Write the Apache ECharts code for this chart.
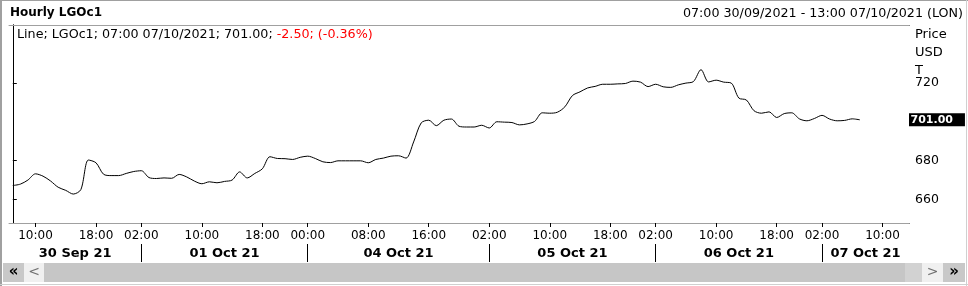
<!DOCTYPE html>
<html>
<head>
<meta charset="utf-8">
<script src="https://cdn.jsdelivr.net/npm/echarts@6/dist/echarts.min.js"></script>
<style>
html,body{margin:0;padding:0;background:#fff;}
#c{width:968px;height:286px;}
</style>
</head>
<body>
<div id="c"></div>
<script>
// ---- data ----
const sessions = [
  ['2021-09-30', 7, 22],
  ['2021-10-01', 1, 22],
  ['2021-10-03', 23, 23],
  ['2021-10-04', 0, 22],
  ['2021-10-05', 1, 22],
  ['2021-10-06', 1, 22],
  ['2021-10-07', 1, 13]
];
const tickLabels = ['2021-09-30 10:00','2021-09-30 18:00','2021-10-01 02:00','2021-10-01 10:00','2021-10-01 18:00',
  '2021-10-04 00:00','2021-10-04 08:00','2021-10-04 16:00','2021-10-05 02:00','2021-10-05 10:00','2021-10-05 18:00',
  '2021-10-06 02:00','2021-10-06 10:00','2021-10-06 18:00','2021-10-07 02:00','2021-10-07 10:00'];
const dayStarts = ['2021-10-01 02:00','2021-10-04 00:00','2021-10-05 02:00','2021-10-06 02:00','2021-10-07 02:00'];
const dayLabels = ['30 Sep 21','01 Oct 21','04 Oct 21','05 Oct 21','06 Oct 21','07 Oct 21'];
const prices = [
  667.2, 667.9, 670.0, 673.2, 672.0, 669.5, 666.3, 664.7, 662.8, 665.1,
  680.3, 678.9, 673.0, 672.3, 672.3, 673.4, 674.4, 674.8, 671.3, 670.8,
  671.1, 670.9, 672.9, 671.6, 669.5, 668.1, 669.1, 668.6, 669.3, 670.0,
  674.2, 671.1, 673.4, 675.8, 682.0, 681.1, 681.0, 680.6, 681.7, 682.3,
  681.1, 679.4, 679.0, 679.9, 679.9, 679.9, 679.9, 678.9, 680.6, 681.3,
  682.3, 682.5, 681.3, 689.6, 699.4, 700.8, 698.0, 700.8, 701.4, 697.7,
  697.3, 697.3, 698.2, 696.8, 700.0, 699.8, 699.6, 698.4, 698.9, 700.2,
  704.6, 704.4, 704.9, 707.7, 713.5, 715.4, 717.4, 718.2, 719.3, 719.3,
  719.5, 719.7, 720.9, 720.4, 718.1, 719.3, 718.0, 717.7, 719.0, 719.9,
  720.7, 726.8, 720.5, 721.4, 720.4, 719.9, 712.2, 711.2, 705.7, 704.4,
  705.1, 702.2, 704.2, 704.6, 701.5, 700.5, 701.7, 703.3, 701.4, 700.5,
  700.7, 701.5, 701.0
];
const yTicks = [660, 680, 720];
const yMin = 647.9, yMax = 749.8;

// ---- build ----
const categories = [];
sessions.forEach(s => { for (let h = s[1]; h <= s[2]; h++) categories.push(s[0] + ' ' + String(h).padStart(2, '0') + ':00'); });
const N = categories.length;
const tickIdx = tickLabels.map(t => categories.indexOf(t));
const sepIdx = dayStarts.map(t => categories.indexOf(t));
const bounds = [-0.5].concat(sepIdx).concat([N - 0.5]);
const dayMid = dayLabels.map((d, i) => (bounds[i] + bounds[i + 1]) / 2);
const seriesData = prices.map((v, i) => [i, v]);
const last = prices[prices.length - 1];

const FONT = '"DejaVu Sans", sans-serif';
const G = {left: 9, top: 25, right: 59, bottom: 63};
const W = 968, H = 286;
const gx1 = G.left + 0.5, gx2 = W - G.right + 0.5, gy1 = G.top + 0.5, gy2 = H - G.bottom + 0.5;

const chart = echarts.init(document.getElementById('c'), null, {renderer: 'canvas'});
chart.setOption({
  animation: false,
  backgroundColor: '#fff',
  textStyle: {fontFamily: FONT},
  grid: {left: G.left, top: G.top, right: G.right, bottom: G.bottom, containLabel: false, outerBoundsMode: 'none'},
  xAxis: [
    {
      type: 'value', min: -0.5, max: N - 0.5, position: 'bottom',
      axisLine: {show: true, lineStyle: {color: '#a0a0a0', width: 1}},
      axisTick: {show: true, customValues: tickIdx, length: 4, lineStyle: {color: '#000'}},
      axisLabel: {show: true, customValues: tickIdx, margin: 7, fontSize: 12, color: '#000', fontFamily: FONT,
        formatter: v => categories[Math.round(v)].slice(11)},
      splitLine: {show: false}
    },
    {
      type: 'value', min: -0.5, max: N - 0.5, position: 'bottom', offset: 21,
      axisLine: {show: false},
      axisTick: {show: true, customValues: sepIdx, length: 18, lineStyle: {color: '#000'}},
      axisLabel: {show: true, customValues: dayMid, margin: 3, fontSize: 13, fontWeight: 'bold', color: '#000', fontFamily: FONT,
        formatter: v => dayLabels[dayMid.indexOf(v)]},
      splitLine: {show: false}
    },
    {
      type: 'value', min: -0.5, max: N - 0.5, position: 'top',
      axisLine: {show: true, lineStyle: {color: '#a0a0a0', width: 1}},
      axisTick: {show: false}, axisLabel: {show: false}, splitLine: {show: false}
    }
  ],
  yAxis: [
    {
      type: 'value', min: yMin, max: yMax, position: 'right',
      axisLine: {show: true, lineStyle: {color: '#000', width: 1}},
      axisTick: {show: true, customValues: yTicks, length: 4, lineStyle: {color: '#000'}},
      axisLabel: {show: true, customValues: yTicks, margin: 6, fontSize: 12.5, color: '#000', fontFamily: FONT},
      splitLine: {show: false}
    },
    {
      type: 'value', min: yMin, max: yMax, position: 'left',
      axisLine: {show: true, lineStyle: {color: '#000', width: 1}},
      axisTick: {show: false}, axisLabel: {show: false}, splitLine: {show: false}
    },
    {
      type: 'value', min: yMin, max: yMax, position: 'right',
      axisLine: {show: false}, axisTick: {show: false}, splitLine: {show: false},
      axisLabel: {show: true, customValues: [last], margin: 0, fontSize: 11, fontWeight: 'bold', color: '#fff',
        backgroundColor: '#000', padding: [1, 12, 0, 1.5], lineHeight: 12, fontFamily: FONT,
        formatter: v => v.toFixed(2)}
    }
  ],
  series: [{
    type: 'line', xAxisIndex: 0, yAxisIndex: 0, data: seriesData,
    showSymbol: false, smooth: 0.3, clip: true,
    lineStyle: {color: '#000', width: 1}
  }],
  graphic: [
    // window frame
    {type: 'line', shape: {x1: 1, y1: 0, x2: 1, y2: H}, style: {stroke: '#a0a0a0', lineWidth: 2}, silent: true},
    {type: 'line', shape: {x1: 0, y1: 0.5, x2: W, y2: 0.5}, style: {stroke: '#a0a0a0', lineWidth: 1}, silent: true},
    {type: 'line', shape: {x1: W - 1.5, y1: 0, x2: W - 1.5, y2: H}, style: {stroke: '#d0d0d0', lineWidth: 1}, silent: true},
    {type: 'line', shape: {x1: 0, y1: H - 1.5, x2: W, y2: H - 1.5}, style: {stroke: '#d0d0d0', lineWidth: 1}, silent: true},
    // black corner segments of the plot frame
    {type: 'line', shape: {x1: gx1, y1: gy1, x2: gx1 + 21, y2: gy1}, style: {stroke: '#000', lineWidth: 1}, silent: true},
    {type: 'line', shape: {x1: gx2 - 20, y1: gy1, x2: gx2, y2: gy1}, style: {stroke: '#000', lineWidth: 1}, silent: true},
    {type: 'line', shape: {x1: gx1, y1: gy2, x2: gx1 + 21, y2: gy2}, style: {stroke: '#000', lineWidth: 1}, silent: true},
    {type: 'line', shape: {x1: gx2 - 20, y1: gy2, x2: gx2, y2: gy2}, style: {stroke: '#000', lineWidth: 1}, silent: true},
    // header texts
    {type: 'text', left: 10, top: 7, style: {text: 'Hourly LGOc1', font: 'bold 12px ' + FONT, fill: '#000'}},
    {type: 'text', right: 5, top: 7, style: {text: '07:00 30/09/2021 - 13:00 07/10/2021 (LON)', font: '12.7px ' + FONT, fill: '#000'}},
    {type: 'text', left: 17, top: 28, style: {
      text: '{a|Line; LGOc1; 07:00 07/10/2021; 701.00; }{b|-2.50; (-0.36%)}',
      rich: {a: {fontSize: 12.7, fontFamily: FONT, fill: '#000', color: '#000'}, b: {fontSize: 12.7, fontFamily: FONT, fill: '#f00', color: '#f00'}}
    }},
    {type: 'text', left: 915, top: 28, style: {text: 'Price', font: '13px ' + FONT, fill: '#000'}},
    {type: 'text', left: 915, top: 46, style: {text: 'USD', font: '13px ' + FONT, fill: '#000'}},
    {type: 'text', left: 915, top: 64, style: {text: 'T', font: '13px ' + FONT, fill: '#000'}},
    // scrollbar
    {type: 'rect', shape: {x: 3, y: 263, width: 21, height: 19}, style: {fill: '#c8c8c8'}, silent: true},
    {type: 'rect', shape: {x: 24, y: 263, width: 20, height: 19}, style: {fill: '#f0f0f0'}, silent: true},
    {type: 'rect', shape: {x: 44, y: 263, width: 861, height: 19}, style: {fill: '#c6c6c6'}, silent: true},
    {type: 'rect', shape: {x: 905, y: 263, width: 17, height: 19}, style: {fill: '#d2d2d2'}, silent: true},
    {type: 'rect', shape: {x: 922, y: 263, width: 21, height: 19}, style: {fill: '#f0f0f0'}, silent: true},
    {type: 'rect', shape: {x: 943, y: 263, width: 22, height: 19}, style: {fill: '#c8c8c8'}, silent: true},
    {type: 'text', x: 13.5, y: 272.5, style: {text: '«', font: 'bold 15px ' + FONT, fill: '#000', align: 'center', verticalAlign: 'middle'}},
    {type: 'text', x: 34, y: 272.5, style: {text: '<', font: '14px ' + FONT, fill: '#707070', align: 'center', verticalAlign: 'middle'}},
    {type: 'text', x: 932.5, y: 272.5, style: {text: '>', font: '14px ' + FONT, fill: '#707070', align: 'center', verticalAlign: 'middle'}},
    {type: 'text', x: 954, y: 272.5, style: {text: '»', font: 'bold 15px ' + FONT, fill: '#000', align: 'center', verticalAlign: 'middle'}}
  ]
});
</script>
</body>
</html>
